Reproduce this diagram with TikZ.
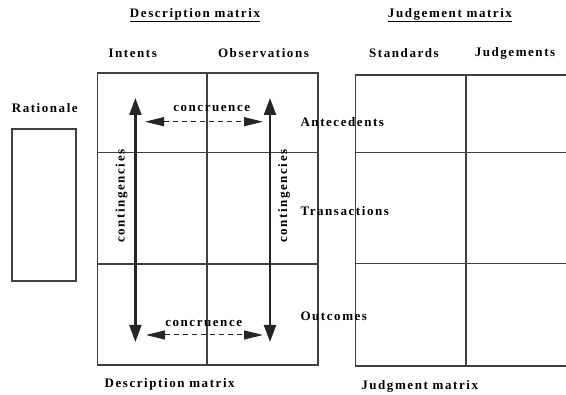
\documentclass[tikz,border=0pt]{standalone}
\usepackage{fontspec}
\setmainfont{Liberation Serif}[LetterSpace=12]
\usetikzlibrary{arrows.meta}

\begin{document}
\begin{tikzpicture}[x=1pt,y=-1pt,
  font=\fontsize{13}{15}\selectfont\bfseries,
  grid/.style={line width=1.7pt,black!75},
  flow/.style={line width=2.2pt,black!85,{Triangle[length=17pt,width=12pt]}-{Triangle[length=17pt,width=12pt]}},
  match/.style={line width=1pt,black!85,dash pattern=on 5pt off 4pt,{Triangle[length=19pt,width=9pt]}-{Triangle[length=19pt,width=9pt]}},
  row/.style={anchor=west}]

            \useasboundingbox (0,0) rectangle (566,395);

            % description matrix
            \draw[grid] (97.5,73) rectangle (317.7,365);
            \draw[grid] (97.5,152.5) -- (317.7,152.5) (97.5,264) -- (317.7,264);
            \draw[grid] (207,73) -- (207,365);
            % judgement matrix
            \draw[grid] (566,75) -- (355.6,75) -- (355.6,366) -- (566,366);
            \draw[grid] (355.6,152.5) -- (566,152.5) (355.6,263.5) -- (566,263.5);
            \draw[grid] (465.7,75) -- (465.7,366);
            % rationale box
            \draw[grid] (12.3,129) rectangle (75.8,281);

            \node (desctop) at (195,15) {\underline{Description matrix}};
            \node (judgtop) at (450,15) {\underline{Judgement matrix}};
            \node (intents) at (132.7,53) {Intents};
            \node (observ) at (263.5,53) {Observations};
            \node (standards) at (404,53) {Standards};
            \node (judgements) at (515,53) {Judgements};
            \node (rationale) at (44.8,108) {Rationale};
            \node[row] (antec) at (297,122) {Antecedents};
            \node[row] (trans) at (297,211) {Transactions};
            \node[row] (outc) at (297,316) {Outcomes};
            \node (descbot) at (169.7,384) {Description matrix};
            \node (judgbot) at (419.7,386) {Judgment matrix};

            \coordinate (intup) at (135.4,98);
            \coordinate (intdown) at (135.4,342);
            \coordinate (obsup) at (270,98);
            \coordinate (obsdown) at (270,342);
            \coordinate (antl) at (145,121.7);
            \coordinate (antr) at (263,121.7);
            \coordinate (outl) at (146,335);
            \coordinate (outr) at (263,335);

            \draw[flow] (intdown) -- (intup);
            \draw[flow] (obsdown) -- (obsup);
            \draw[match] (antl) -- (antr);
            \draw[match] (outl) -- (outr);

            \node[rotate=90] (contl) at (121.5,196) {contingencies};
            \node[rotate=90] (contr) at (284,196) {contingencies};
            \node (congtop) at (211.7,109) {concruence};
            \node (congbot) at (203.7,324) {concruence};
            \end{tikzpicture}
\end{document}
